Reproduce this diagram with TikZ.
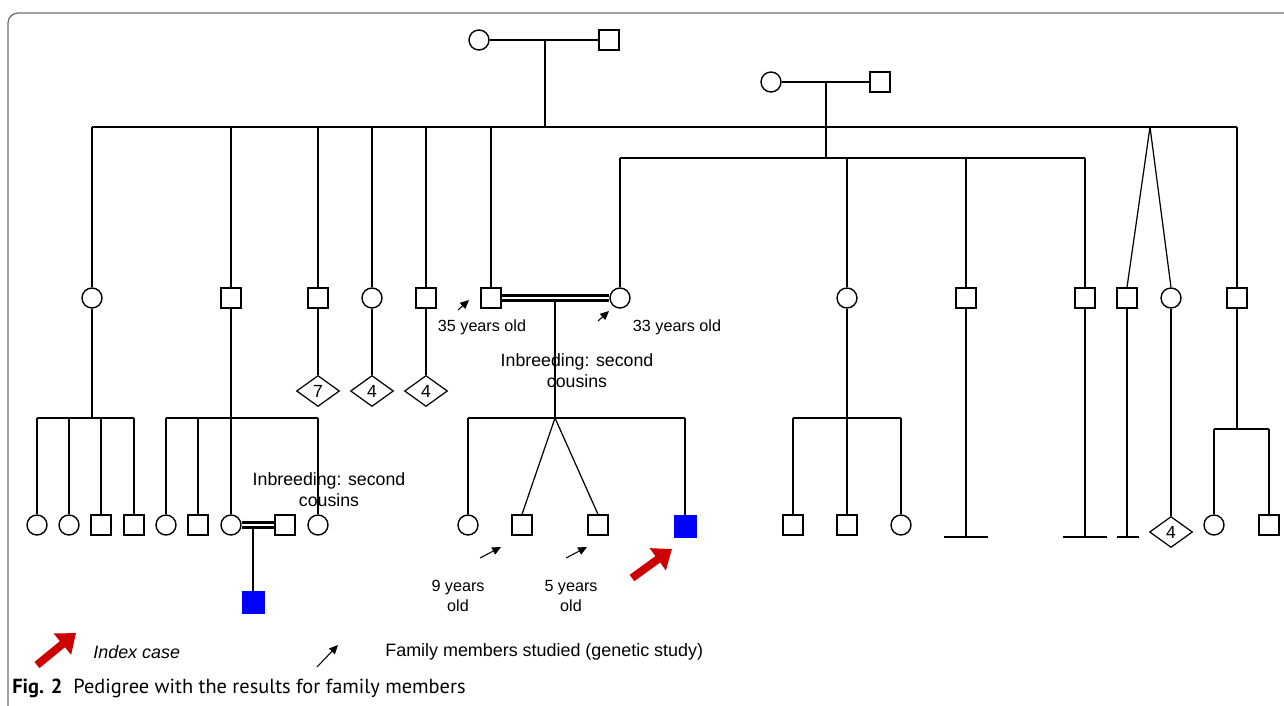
\documentclass[tikz,border=0pt]{standalone}
\usepackage{fontspec}
\setmainfont{Liberation Sans}
\newfontfamily\capfont{PT Sans}
\usetikzlibrary{shapes.geometric,arrows.meta}
\definecolor{idxred}{RGB}{204,0,0}
\definecolor{framegray}{RGB}{110,110,110}
\begin{document}
\begin{tikzpicture}[x=0.02cm,y=-0.02cm,
	fem/.style={circle,draw,line width=0.8pt,inner sep=0pt,minimum size=0.4cm,fill=white},
	mal/.style={rectangle,draw,line width=0.8pt,inner sep=0pt,minimum size=0.4cm,fill=white},
	sick/.style={rectangle,draw=blue,fill=blue,inner sep=0pt,minimum size=0.44cm},
	multi/.style={diamond,draw,line width=0.7pt,inner sep=0pt,minimum width=0.86cm,minimum height=0.62cm,fill=white,font=\fontsize{10}{12}\selectfont},
	lbl/.style={font=\fontsize{10.1}{12}\selectfont,align=center},
	agelbl/.style={font=\fontsize{9.2}{11.4}\selectfont,align=center},
	kin/.style={line width=1.1pt},
	cons/.style={line width=1.7pt,double,double distance=0.6pt},
	twinline/.style={line width=0.7pt},
	studied/.style={line width=0.6pt,-{Triangle[length=5pt,width=4.5pt]}},
	index/.style={draw=idxred,line width=4.5pt,-{Triangle[length=10pt,width=15pt]}},
	bar/.style={line width=1.4pt}]
\useasboundingbox (0,0) rectangle (1284,706);
\draw[framegray,line width=0.7pt,rounded corners=0.2cm] (1300,13) -- (8,13) -- (8,720);
\path
	(479,40) node[fem] (I1) {}
	(609,40) node[mal] (I2) {}
	(771,82) node[fem] (I3) {}
	(880,82) node[mal] (I4) {};
\path
	(92,298) node[fem] (II1) {}
	(231,298) node[mal] (II2) {}
	(318,298) node[mal] (II3) {}
	(372,298) node[fem] (II4) {}
	(426,298) node[mal] (II5) {}
	(491,298) node[mal] (II6) {}
	(620,298) node[fem] (II7) {}
	(847,298) node[fem] (II8) {}
	(966,298) node[mal] (II9) {}
	(1085,298) node[mal] (II10) {}
	(1127,298) node[mal] (II11) {}
	(1171,298) node[fem] (II12) {}
	(1237,298) node[mal] (II13) {};
\path
	(318,391) node[multi] (D1) {7}
	(372,391) node[multi] (D2) {4}
	(426,391) node[multi] (D3) {4}
	(1171,532) node[multi] (D4) {4};
\path
	(37,525) node[fem] (III1) {}
	(69,525) node[fem] (III2) {}
	(101,525) node[mal] (III3) {}
	(134,525) node[mal] (III4) {}
	(166,525) node[fem] (III5) {}
	(198,525) node[mal] (III6) {}
	(231,525) node[fem] (III7) {}
	(285,525) node[mal] (III8) {}
	(318,525) node[fem] (III9) {}
	(468,525) node[fem] (III10) {}
	(522,525) node[mal] (III11) {}
	(598,525) node[mal] (III12) {}
	(685,526) node[sick] (III13) {}
	(793,525) node[mal] (III14) {}
	(847,525) node[mal] (III15) {}
	(901,525) node[fem] (III16) {}
	(1214,525) node[fem] (III17) {}
	(1269,525) node[mal] (III18) {}
	(253,602) node[sick] (IV1) {};
\path
	(545,127) coordinate (s1)
	(826,158) coordinate (s2)
	(1150,127) coordinate (tw1)
	(92,418) coordinate (s3)
	(555,298) coordinate (c1)
	(555,418) coordinate (s5)
	(847,418) coordinate (s6)
	(1237,429) coordinate (s7)
	(253,525) coordinate (c2)
	(966,537) coordinate (e1)
	(1085,537) coordinate (e2)
	(1127,537) coordinate (e3);
\draw[kin] (I1) -- (I2);
\draw[kin] (I1 -| s1) -- (s1);
\draw[kin] (II1 |- s1) -- (II13 |- s1);
\draw[kin] (I3) -- (I4);
\draw[kin] (I3 -| s2) -- (s2);
\draw[kin] (II7 |- s2) -- (II10 |- s2);
\foreach \n in {II1,II2,II3,II4,II5,II6,II13}
	\draw[kin] (\n |- s1) -- (\n);
\foreach \n in {II7,II8,II9,II10}
	\draw[kin] (\n |- s2) -- (\n);
\draw[twinline] (tw1) -- (II11.north);
\draw[twinline] (tw1) -- (II12.north);
\draw[kin] (II3) -- (D1);
\draw[kin] (II4) -- (D2);
\draw[kin] (II5) -- (D3);
\draw[kin] (II12) -- (D4);
\draw[kin] (II1) -- (s3);
\draw[kin] (III1 |- s3) -- (III4 |- s3);
\foreach \n in {III1,III2,III3,III4}
	\draw[kin] (\n |- s3) -- (\n);
\draw[kin] (II2) -- (III7);
\draw[kin] (III5 |- s3) -- (III9 |- s3);
\foreach \n in {III5,III6,III9}
	\draw[kin] (\n |- s3) -- (\n);
\draw[kin] (c2) -- (IV1);
\draw[cons] (III7) -- (III8);
\draw[kin] (c1) -- (s5);
\draw[cons] (II6) -- (II7);
\draw[kin] (III10 |- s5) -- (III13 |- s5);
\draw[kin] (III10 |- s5) -- (III10);
\draw[kin] (III13 |- s5) -- (III13);
\draw[twinline] (s5) -- (III11.north);
\draw[twinline] (s5) -- (III12.north);
\draw[kin] (II8) -- (III15);
\draw[kin] (III14 |- s6) -- (III16 |- s6);
\draw[kin] (III14 |- s6) -- (III14);
\draw[kin] (III16 |- s6) -- (III16);
\draw[kin] (II9) -- (e1);
\draw[kin] (II10) -- (e2);
\draw[kin] (II11) -- (e3);
\draw[bar] (944,537) -- (988,537);
\draw[bar] (1063,537) -- (1107,537);
\draw[bar] (1117,537) -- (1139,537);
\draw[kin] (II13) -- (s7);
\draw[kin] (III17 |- s7) -- (III18 |- s7);
\draw[kin] (III17 |- s7) -- (III17);
\draw[kin] (III18 |- s7) -- (III18);
\path
	(329,490) node[lbl] (ib1) {Inbreeding: second\\cousins}
	(577,371) node[lbl] (ib2) {Inbreeding: second\\cousins}
	(482,327) node[agelbl] (age1) {35 years old}
	(677,327) node[agelbl] (age2) {33 years old}
	(458,596) node[agelbl] (age3) {9 years\\old}
	(571,596) node[agelbl] (age4) {5 years\\old};
\draw[studied] (458,310) -- (469,300);
\draw[studied] (598,321) -- (609,311);
\draw[studied] (480,558) -- (501,547);
\draw[studied] (566,558) -- (587,547);
\draw[index] (632,578) -- (672,549);
\draw[index] (37,665) -- (76,633);
\draw[studied] (317,667) -- (338,645);
\path
	(93,652) node[anchor=west,inner sep=0pt,font=\fontsize{10.2}{12}\selectfont\itshape] (leg1) {Index case}
	(385,652) node[anchor=west,inner sep=0pt,font=\fontsize{10.2}{12}\selectfont] (leg2) {Family members studied (genetic study)}
	(12,688) node[anchor=west,inner sep=0pt,font=\capfont\fontsize{11.6}{13}\selectfont] (cap) {\textbf{Fig. 2}\ \ Pedigree with the results for family members};
\end{tikzpicture}
\end{document}
